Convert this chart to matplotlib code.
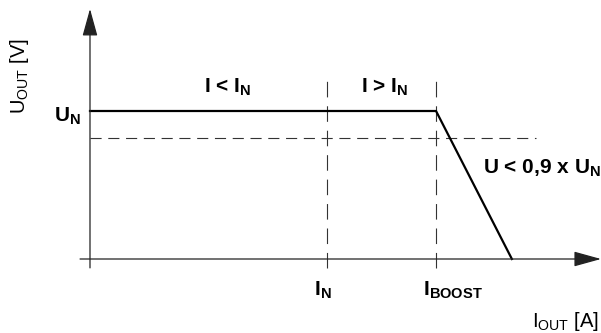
import numpy as np
import matplotlib
matplotlib.use("Agg")
import matplotlib.pyplot as plt

plt.rcParams['font.family'] = ['Liberation Sans', 'DejaVu Sans']
plt.rcParams['mathtext.fontset'] = 'custom'
plt.rcParams['mathtext.rm'] = 'Liberation Sans'
plt.rcParams['mathtext.bf'] = 'Liberation Sans:bold'

# characteristic (x in units of I_N, y in units of U_N)
I_N = 1.0
I_BOOST = 1.46
I_END = 1.78
U_N = 1.0
U_LIM = 0.82            # 0.9 x U_N level as drawn

curve_i = [0.0, I_BOOST, I_END]
curve_u = [U_N, U_N, 0.0]

guide_x = [I_N, I_BOOST]
guide_end = 1.88

fig = plt.figure(figsize=(6.01, 3.33), dpi=100)
ax = fig.add_axes([0, 0, 1, 1])
ax.set_xlim(-0.3797, 2.156)
ax.set_ylim(-0.5, 1.75)
ax.axis('off')

# axes with arrow heads
arrow = dict(arrowstyle='-|>,head_length=1.7,head_width=0.47', lw=0.9,
             color='#222222', shrinkA=0, shrinkB=0, mutation_scale=10)
ax.annotate('', xy=(2.156, 0), xytext=(-0.042, 0), arrowprops=arrow)
ax.annotate('', xy=(0, 1.69), xytext=(0, -0.06), arrowprops=arrow)

# dashed guides
ax.plot([0, guide_end], [U_LIM, U_LIM], color='#333333', lw=0.8,
        dashes=(10, 6))
for gx in guide_x:
    ax.plot([gx, gx], [-0.06, 1.21], color='#333333', lw=0.8, dashes=(14, 8))

# output characteristic
ax.plot(curve_i, curve_u, color='black', lw=1.6, solid_joinstyle='miter')

# labels
fs = 15
fa = 14.5
ax.text(-0.038, 0.932, r'U$_\mathbf{N}$', fontsize=fs, fontweight='bold',
        ha='right', va='baseline')
ax.text(-0.249, 1.236, r'U$_{\mathrm{OUT}}$ [V]', fontsize=fa, rotation=90,
        ha='right', va='center')
ax.text(0.58, 1.128, r'I < I$_\mathbf{N}$', fontsize=fs, fontweight='bold',
        ha='center', va='baseline')
ax.text(1.245, 1.128, r'I > I$_\mathbf{N}$', fontsize=fs, fontweight='bold',
        ha='center', va='baseline')
ax.text(1.658, 0.581, r'U < 0,9 x U$_\mathbf{N}$', fontsize=fs,
        fontweight='bold', ha='left', va='baseline')
ax.text(0.945, -0.243, r'I$_\mathbf{N}$', fontsize=fs, fontweight='bold',
        ha='left', va='baseline')
ax.text(1.405, -0.243, r'I$_\mathbf{BOOST}$', fontsize=fs, fontweight='bold',
        ha='left', va='baseline')
ax.text(2.148, -0.459, r'I$_{\mathrm{OUT}}$ [A]', fontsize=fa,
        ha='right', va='baseline')

fig.savefig('out.png', dpi=100)
